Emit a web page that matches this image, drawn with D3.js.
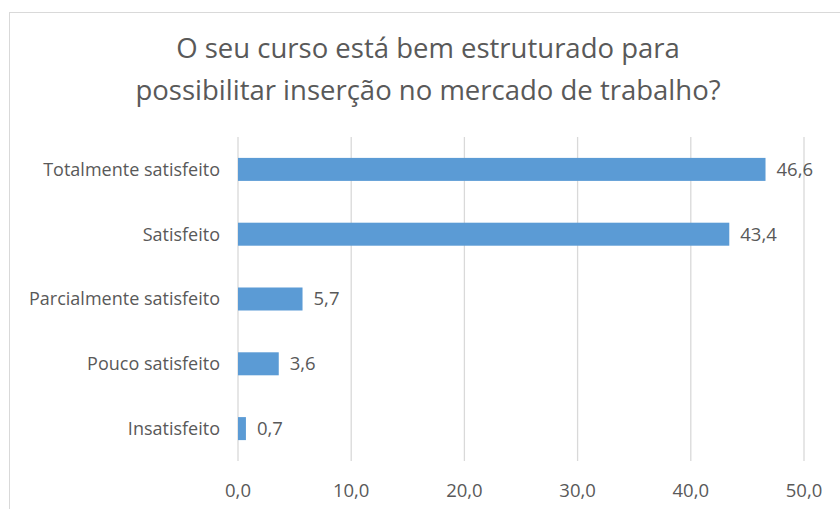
<!DOCTYPE html>
<html>
<head>
<meta charset="utf-8">
<script src="https://cdn.jsdelivr.net/npm/d3@7"></script>
<style>
  body { margin: 0; background: #fff; }
  svg { display: block; font-family: "Open Sans", sans-serif; }
</style>
</head>
<body>
<div id="chart"></div>
<script>
const categories = ["Totalmente satisfeito", "Satisfeito", "Parcialmente satisfeito", "Pouco satisfeito", "Insatisfeito"];
const values = [46.6, 43.4, 5.7, 3.6, 0.7];
const ticks = [0, 10, 20, 30, 40, 50];
const titleLines = ["O seu curso está bem estruturado para", "possibilitar inserção no mercado de trabalho?"];

const width = 840, height = 509;
const svg = d3.select("#chart").append("svg")
    .attr("width", width)
    .attr("height", height);

// chart frame
svg.append("rect")
    .attr("x", 9.5).attr("y", 12.5)
    .attr("width", 840).attr("height", 520)
    .attr("fill", "#fff")
    .attr("stroke", "#d9d9d9");

const fmt = v => d3.format(".1f")(v).replace(".", ",");

const x = d3.scaleLinear().domain([0, 50]).range([238, 804]);
const y = d3.scaleBand().domain(categories).range([137, 461]).paddingInner(0.645).paddingOuter(0.3225);

// title
svg.append("g").selectAll("text")
    .data(titleLines)
    .enter().append("text")
    .attr("x", 428)
    .attr("y", (d, i) => 58 + i * 42)
    .attr("text-anchor", "middle")
    .attr("font-size", 27.5)
    .attr("fill", "#595959")
    .text(d => d);

// gridlines
svg.append("g").selectAll("line")
    .data(ticks)
    .enter().append("line")
    .attr("x1", d => x(d)).attr("x2", d => x(d))
    .attr("y1", 137).attr("y2", 461)
    .attr("stroke", "#d9d9d9")
    .attr("stroke-width", 1.3);

// x tick labels
svg.append("g").selectAll("text")
    .data(ticks)
    .enter().append("text")
    .attr("x", d => x(d))
    .attr("y", 497)
    .attr("text-anchor", "middle")
    .attr("font-size", 18.5)
    .attr("fill", "#595959")
    .text(d => fmt(d));

// bars
svg.append("g").selectAll("rect")
    .data(values)
    .enter().append("rect")
    .attr("x", x(0))
    .attr("y", (d, i) => y(categories[i]))
    .attr("width", d => x(d) - x(0))
    .attr("height", y.bandwidth())
    .attr("fill", "#5b9bd5");

// category labels
svg.append("g").selectAll("text")
    .data(categories)
    .enter().append("text")
    .attr("x", 220)
    .attr("y", d => y(d) + y.bandwidth() / 2)
    .attr("dy", "0.35em")
    .attr("text-anchor", "end")
    .attr("font-size", 18)
    .attr("fill", "#595959")
    .text(d => d);

// value labels
svg.append("g").selectAll("text")
    .data(values)
    .enter().append("text")
    .attr("x", d => x(d) + 11)
    .attr("y", (d, i) => y(categories[i]) + y.bandwidth() / 2)
    .attr("dy", "0.35em")
    .attr("font-size", 18.5)
    .attr("fill", "#595959")
    .text(d => fmt(d));
</script>
</body>
</html>
